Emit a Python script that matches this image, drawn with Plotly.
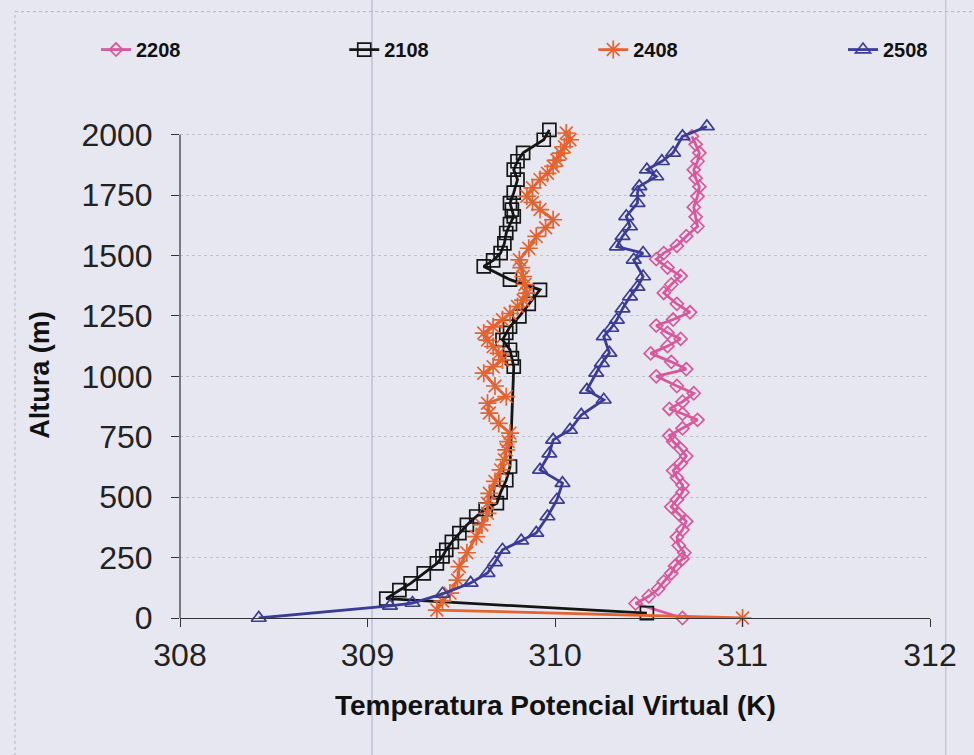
import plotly.graph_objects as go

# ---------------- data ----------------
h_2208 = [0, 60, 90, 120, 150, 185, 215, 245, 270, 300, 335, 365, 400, 430, 460, 490, 520, 550,
          580, 610, 640, 670, 700, 730, 755, 785, 820, 845, 865, 895, 930, 960, 1000, 1030, 1060,
          1095, 1125, 1155, 1180, 1210, 1235, 1265, 1300, 1345, 1380, 1415, 1450, 1485, 1510, 1540,
          1580, 1620, 1660, 1700, 1745, 1785, 1820, 1855, 1890, 1925, 1960, 1993]
t_2208 = [310.68, 310.43, 310.50, 310.55, 310.58, 310.62, 310.64, 310.68, 310.69, 310.66, 310.65,
          310.68, 310.70, 310.66, 310.62, 310.65, 310.68, 310.68, 310.65, 310.63, 310.67, 310.70,
          310.67, 310.63, 310.61, 310.68, 310.76, 310.68, 310.61, 310.68, 310.74, 310.65, 310.54,
          310.70, 310.62, 310.51, 310.60, 310.67, 310.60, 310.54, 310.63, 310.72, 310.65, 310.58,
          310.62, 310.67, 310.60, 310.54, 310.58, 310.65, 310.70, 310.76, 310.75, 310.74, 310.76,
          310.77, 310.75, 310.74, 310.76, 310.77, 310.75, 310.73]

h_2108 = [20, 80, 115, 143, 185, 226, 255, 282, 315, 351, 385, 420, 450, 475, 520, 570, 627,
          1040, 1075, 1110, 1151, 1180, 1206, 1248, 1300, 1358, 1400, 1455, 1480, 1510, 1550, 1593,
          1630, 1662, 1690, 1717, 1760, 1814, 1855, 1890, 1925, 1979, 2020]
t_2108 = [310.49, 309.10, 309.17, 309.23, 309.30, 309.37, 309.40, 309.42, 309.45, 309.49, 309.53,
          309.58, 309.63, 309.69, 309.71, 309.74, 309.76,
          309.78, 309.77, 309.76, 309.72, 309.74, 309.76, 309.81, 309.86, 309.92, 309.76, 309.62,
          309.67, 309.71, 309.73, 309.74, 309.76, 309.78, 309.77, 309.76, 309.78, 309.80, 309.78,
          309.80, 309.83, 309.94, 309.97]

h_2408 = [0, 33, 70, 103, 157, 212, 270, 337, 385, 433, 475, 516, 565, 613, 655, 696, 730, 765,
          805, 848, 889, 916, 960, 1013, 1040, 1068, 1095, 1123, 1150, 1179, 1205, 1234, 1260,
          1289, 1315, 1344, 1380, 1413, 1450, 1482, 1530, 1579, 1615, 1648, 1690, 1720, 1745,
          1780, 1814, 1840, 1869, 1895, 1924, 1950, 1979, 2007]
t_2408 = [311.00, 309.37, 309.40, 309.44, 309.48, 309.49, 309.53, 309.58, 309.61, 309.64, 309.64,
          309.65, 309.68, 309.71, 309.73, 309.74, 309.75, 309.76, 309.70, 309.65, 309.64, 309.74,
          309.68, 309.62, 309.67, 309.72, 309.70, 309.67, 309.64, 309.62, 309.67, 309.72, 309.76,
          309.80, 309.83, 309.85, 309.84, 309.83, 309.82, 309.81, 309.86, 309.90, 309.95, 309.99,
          309.92, 309.88, 309.85, 309.88, 309.92, 309.96, 309.99, 310.01, 310.03, 310.05, 310.08,
          310.06]

h_2508 = [0, 50, 62, 100, 145, 186, 230, 282, 320, 352, 420, 489, 558, 613, 680, 737, 778, 840,
          903, 944, 1014, 1055, 1097, 1165, 1200, 1234, 1280, 1330, 1370, 1413, 1482, 1510, 1537,
          1580, 1620, 1662, 1717, 1760, 1786, 1827, 1855, 1890, 1925, 1993, 2034]
t_2508 = [308.42, 309.12, 309.24, 309.40, 309.55, 309.64, 309.68, 309.72, 309.82, 309.90, 309.96,
          310.01, 310.04, 309.92, 309.97, 309.99, 310.08, 310.14, 310.26, 310.17, 310.22, 310.25,
          310.29, 310.26, 310.30, 310.33, 310.36, 310.40, 310.44, 310.47, 310.42, 310.47, 310.33,
          310.36, 310.40, 310.38, 310.44, 310.44, 310.45, 310.54, 310.49, 310.57, 310.63, 310.68,
          310.81]

series_names = ["2208", "2108", "2408", "2508"]
x_ticks = [308, 309, 310, 311, 312]
y_ticks = [0, 250, 500, 750, 1000, 1250, 1500, 1750, 2000]

# ---------------- styles ----------------
BG = "#e7e7f1"
FONT = "Liberation Sans, Arial, sans-serif"
styles = {
    "2208": dict(color="#d9579a", symbol="diamond-open", size=10),
    "2108": dict(color="#151515", symbol="square-open", size=13),
    "2408": dict(color="#e4632f", symbol="asterisk-open", size=15),
    "2508": dict(color="#3b3b98", symbol="triangle-up-open", size=13),
}
data = {"2208": (t_2208, h_2208), "2108": (t_2108, h_2108),
        "2408": (t_2408, h_2408), "2508": (t_2508, h_2508)}
legend_ids = ["legend", "legend2", "legend3", "legend4"]
legend_x = [-0.112, 0.219, 0.551, 0.884]

fig = go.Figure()
for name, lid in zip(series_names, legend_ids):
    st = styles[name]
    tx, hy = data[name]
    fig.add_trace(go.Scatter(
        x=tx, y=hy, name=name, mode="lines+markers", cliponaxis=False, legend=lid,
        line=dict(color=st["color"], width=2.8),
        marker=dict(symbol=st["symbol"], size=st["size"], color=st["color"],
                    line=dict(color=st["color"], width=1.7)),
    ))

legend_common = dict(orientation="h", y=1.153, xanchor="left", yanchor="middle",
                     bgcolor="rgba(0,0,0,0)",
                     font=dict(family=FONT, size=20, color="#111111", weight="bold"))
legend_layout = {lid: dict(legend_common, x=lx) for lid, lx in zip(legend_ids, legend_x)}

fig.update_layout(
    width=974, height=755,
    margin=dict(l=180, r=44, t=125, b=137),
    paper_bgcolor=BG, plot_bgcolor=BG,
    font=dict(family=FONT, color="#222222"),
    showlegend=True,
    **legend_layout,
    xaxis=dict(range=[308, 312], tickvals=x_ticks, ticktext=[str(v) for v in x_ticks],
               showgrid=False, zeroline=False, showline=True, linecolor="#333333", linewidth=1.2,
               ticks="outside", ticklen=8, tickcolor="#333333",
               tickfont=dict(size=32, color="#222222")),
    yaxis=dict(range=[0, 2040], tickvals=y_ticks, ticktext=[str(v) for v in y_ticks],
               showgrid=True, gridcolor="#c2c2ce", griddash="dot", gridwidth=1,
               zeroline=False, showline=False,
               ticks="outside", ticklen=8, tickcolor="#333333", ticklabelstandoff=12,
               tickfont=dict(size=32, color="#222222")),
    annotations=[
        dict(text="Temperatura Potencial Virtual (K)", xref="paper", yref="paper",
             x=0.5, y=-0.178, xanchor="center", yanchor="middle", showarrow=False,
             font=dict(family=FONT, size=28, color="#111111", weight="bold")),
        dict(text="Altura (m)", xref="paper", yref="paper", textangle=-90,
             x=-0.187, y=0.493, xanchor="center", yanchor="middle", showarrow=False,
             font=dict(family=FONT, size=27, color="#111111", weight="bold")),
    ],
    shapes=[
        # y axis line from 0 to 2000
        dict(type="line", xref="paper", yref="y", x0=0, x1=0, y0=0, y1=2000,
             line=dict(color="#333333", width=1.2), layer="above"),
        # scan artefacts: faint page lines
        dict(type="line", xref="paper", yref="paper", x0=0.256, x1=0.256, y0=-0.28, y1=1.26,
             line=dict(color="#a8acc8", width=1), layer="below"),
        dict(type="line", xref="paper", yref="paper", x0=1.021, x1=1.021, y0=-0.28, y1=1.26,
             line=dict(color="#b8bcd0", width=1), layer="below"),
        dict(type="line", xref="paper", yref="paper", x0=-0.22, x1=1.06, y0=1.23, y1=1.23,
             line=dict(color="#b4b4c4", width=1, dash="dot"), layer="below"),
        dict(type="line", xref="paper", yref="paper", x0=-0.22, x1=-0.22, y0=-0.28, y1=1.23,
             line=dict(color="#b4b4c4", width=1, dash="dot"), layer="below"),
    ],
)

fig.write_html("out.html")
